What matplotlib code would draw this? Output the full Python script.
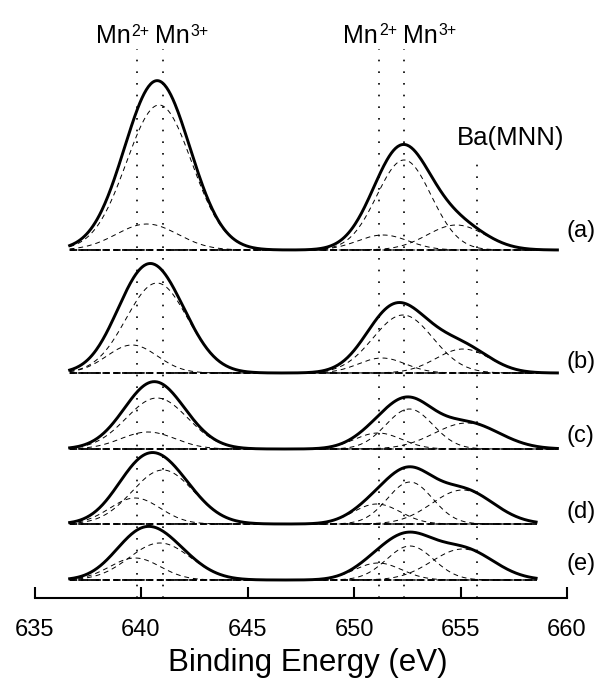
import numpy as np
import matplotlib
matplotlib.use("Agg")
import matplotlib.pyplot as plt

plt.rcParams['font.family'] = ['Liberation Sans', 'DejaVu Sans']

# spectra (a)-(e): vertical offset of each baseline and energy range
labels = ["(a)", "(b)", "(c)", "(d)", "(e)"]
offsets = [348, 225, 149, 74, 18]
label_y = [367, 236, 162, 86, 34]
e_start = [636.65, 636.65, 636.65, 636.65, 636.65]
e_end = [659.58, 659.58, 659.58, 658.58, 658.58]

# fitted components: centre (eV), height, FWHM (eV)
mn2_32_c = [640.28, 639.58, 640.33, 639.72, 639.72]
mn2_32_h = [26, 28, 17, 26, 22]
mn2_32_w = [3.4, 2.8, 3.0, 2.8, 2.8]
mn3_32_c = [640.85, 640.75, 640.75, 641.03, 640.89]
mn3_32_h = [145, 90, 51, 54, 37]
mn3_32_w = [3.6, 3.4, 3.4, 3.4, 3.4]
mn2_12_c = [651.36, 651.31, 651.13, 651.07, 651.13]
mn2_12_h = [15, 15, 16, 20, 17]
mn2_12_w = [2.8, 2.6, 2.6, 2.6, 2.6]
mn3_12_c = [652.35, 652.3, 652.6, 652.63, 652.63]
mn3_12_h = [90, 58, 40, 42, 34]
mn3_12_w = [3.0, 3.3, 2.6, 2.5, 2.6]
ba_c = [654.8, 655.12, 655.3, 655.1, 655.1]
ba_h = [25, 24, 26, 34, 31]
ba_w = [3.2, 3.0, 3.6, 3.4, 3.4]

ref_lines = [639.83, 641.02, 651.17, 652.36]
ba_line = 655.76


def gauss(e, c, h, w):
    return h * np.exp(-4 * np.log(2) * ((e - c) / w) ** 2)


fig = plt.figure(figsize=(6.05, 6.95), dpi=100)
ax = fig.add_axes([34.5 / 605, 97 / 695, 532.5 / 605, 598 / 695])
ax.set_xlim(635, 660)
ax.set_ylim(0, 598)

for i in range(5):
    e = np.arange(e_start[i], e_end[i] + 0.001, 0.05)
    base = offsets[i]
    comps = [
        (mn2_32_c[i], mn2_32_h[i], mn2_32_w[i]),
        (mn3_32_c[i], mn3_32_h[i], mn3_32_w[i]),
        (mn2_12_c[i], mn2_12_h[i], mn2_12_w[i]),
        (mn3_12_c[i], mn3_12_h[i], mn3_12_w[i]),
        (ba_c[i], ba_h[i], ba_w[i]),
    ]
    total = np.zeros_like(e)
    for c, h, w in comps:
        g = gauss(e, c, h, w)
        total += g
        ax.plot(e, base + g, color='black', lw=0.7, ls=(0, (5, 4)))
    ax.plot([e_start[i], e_end[i]], [base, base], color='black', lw=1.3, ls=(0, (4, 2)))
    ax.plot(e, base + total, color='black', lw=2.1)
    ax.text(660.0, label_y[i], labels[i], fontsize=17, ha='left', va='center', clip_on=False)

for x in ref_lines:
    ax.plot([x, x], [0, 549], color='black', lw=1.2, ls=(0, (1, 6)))
ax.plot([ba_line, ba_line], [0, 438], color='black', lw=1.2, ls=(0, (1, 6)))


def ion_label(x, y, charge):
    t = ax.text(x, y, "Mn", fontsize=18, ha='left', va='baseline')
    ax.annotate(charge, xy=(1, 0), xycoords=t, xytext=(0.5, 8.8),
                textcoords='offset points', fontsize=11.5, ha='left', va='baseline')


ion_label(637.88, 554.7, "2+")
ion_label(640.64, 554.7, "3+")
ion_label(649.5, 555.3, "2+")
ion_label(652.31, 555.3, "3+")
ax.text(654.82, 453, "Ba(MNN)", fontsize=18.5, ha='left', va='baseline')

for s in ['top', 'left', 'right']:
    ax.spines[s].set_visible(False)
ax.spines['bottom'].set_linewidth(1.5)
ax.set_yticks([])
ax.set_xticks([635, 640, 645, 650, 655, 660])
ax.tick_params(axis='x', direction='in', length=8, width=1.5, labelsize=17, pad=15)
ax.set_xlabel("Binding Energy (eV)", fontsize=22.5)
ax.xaxis.set_label_coords(0.514, -0.084)

fig.savefig("out.png", dpi=100)
